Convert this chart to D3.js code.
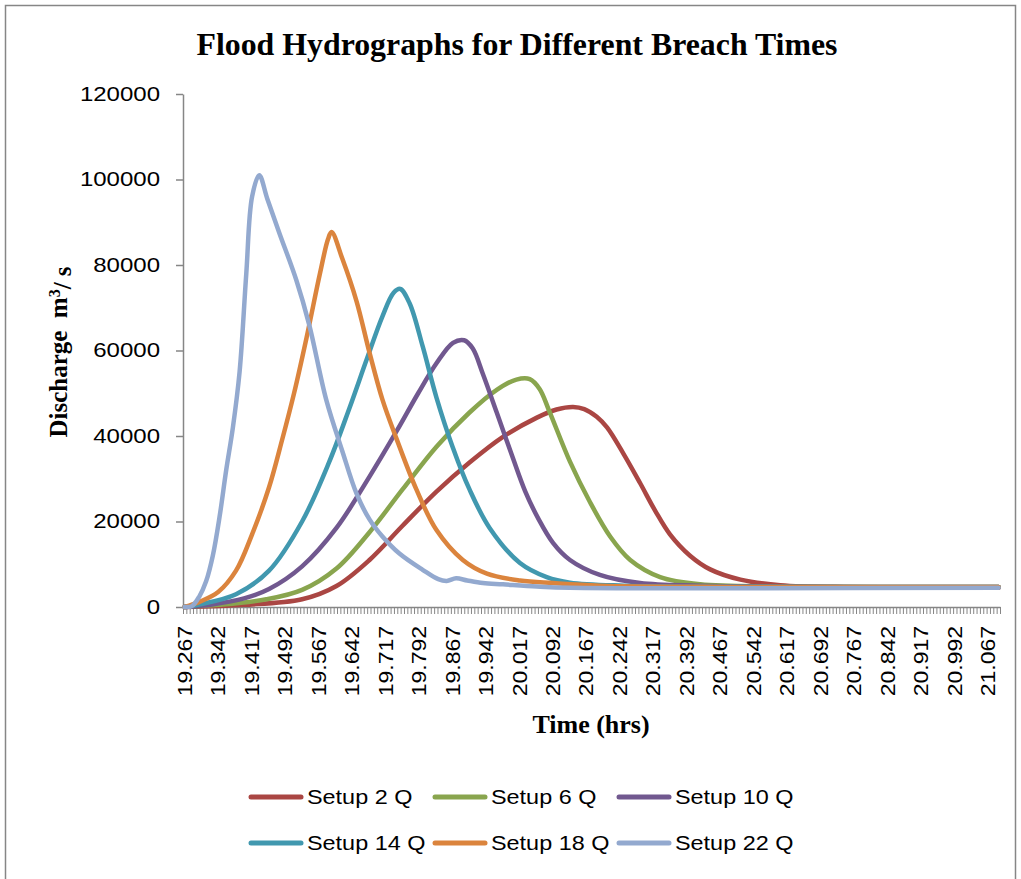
<!DOCTYPE html>
<html><head><meta charset="utf-8">
<script src="https://cdn.jsdelivr.net/npm/d3@7"></script>
<style>body{margin:0;background:#fff} svg{display:block}</style>
</head><body><svg id="c" width="1021" height="879"></svg>
<script>
// ---------- data ----------
const categoryStart = 19.267;   // hrs
const categoryStep = 0.0075;    // hrs per category
const categoryCount = 244;
const xTickLabels = ["19.267","19.342","19.417","19.492","19.567","19.642","19.717","19.792","19.867","19.942",
  "20.017","20.092","20.167","20.242","20.317","20.392","20.467","20.542","20.617","20.692",
  "20.767","20.842","20.917","20.992","21.067"];
const yTicks = [0, 20000, 40000, 60000, 80000, 100000, 120000];
const seriesNames = ["Setup 2 Q","Setup 6 Q","Setup 10 Q","Setup 14 Q","Setup 18 Q","Setup 22 Q"];
const seriesColors = ["#AA4643","#89A54E","#71588F","#4198AF","#DB843D","#93A9CF"];

// [time (hrs), discharge (m3/s)]
const setup2 = [[19.267,0],[19.400,500],[19.530,1800],[19.607,4900],[19.681,11000],[19.755,19000],[19.831,27000],
  [19.905,33800],[19.980,39800],[20.056,44300],[20.100,46200],[20.137,46800],[20.162,46300],[20.190,44500],
  [20.213,42000],[20.249,36000],[20.287,29000],[20.321,22500],[20.354,17000],[20.399,12000],[20.444,8800],
  [20.512,6400],[20.601,5100],[20.759,4600],[21.090,4500]];
const setup6 = [[19.267,0],[19.344,500],[19.450,1800],[19.530,4000],[19.607,9000],[19.681,17500],[19.755,27500],
  [19.831,37500],[19.905,45500],[19.966,50800],[20.010,53200],[20.040,53300],[20.062,51000],[20.083,46000],
  [20.130,34000],[20.175,24500],[20.220,16500],[20.265,11000],[20.332,7000],[20.422,5300],[20.600,4800],[21.090,4700]];
const setup10 = [[19.267,0],[19.328,600],[19.400,2000],[19.456,4200],[19.530,9500],[19.607,18500],[19.681,30500],
  [19.741,41000],[19.790,50000],[19.831,57000],[19.868,61800],[19.893,62400],[19.912,60500],[19.935,54500],
  [19.966,45500],[20.000,35500],[20.030,27000],[20.060,20500],[20.092,15000],[20.130,11000],[20.197,7500],
  [20.287,5600],[20.420,5000],[21.090,4700]];
const setup14 = [[19.267,0],[19.300,600],[19.382,3000],[19.456,8500],[19.530,20000],[19.591,34000],[19.636,46500],
  [19.675,58000],[19.710,68000],[19.735,73500],[19.750,74400],[19.771,71000],[19.800,61000],[19.831,49000],
  [19.867,37500],[19.905,27500],[19.950,18500],[20.018,10300],[20.078,7000],[20.130,5700],[20.250,5000],
  [20.600,4700],[21.090,4700]];
const setup18 = [[19.267,0],[19.300,1200],[19.342,3500],[19.382,8500],[19.418,17000],[19.456,28000],[19.485,39000],
  [19.512,50000],[19.540,63000],[19.570,78000],[19.588,86000],[19.596,87700],[19.620,81500],[19.652,71500],
  [19.681,59500],[19.710,48500],[19.741,39500],[19.786,27500],[19.831,18000],[19.890,11000],[19.944,7800],
  [20.018,6200],[20.092,5600],[20.197,5000],[20.500,4700],[21.090,4700]];
const setup22 = [[19.267,0],[19.283,200],[19.300,2500],[19.315,6000],[19.330,12000],[19.345,21000],[19.360,32000],
  [19.375,42000],[19.390,55000],[19.405,78000],[19.418,96000],[19.434,101000],[19.452,95500],[19.479,87500],
  [19.517,76500],[19.546,66000],[19.584,48500],[19.620,36500],[19.652,26500],[19.681,20500],[19.710,16500],
  [19.748,12500],[19.800,8700],[19.835,6500],[19.854,6100],[19.875,6700],[19.900,6200],[19.935,5600],
  [19.980,5300],[20.056,4800],[20.130,4500],[20.500,4400],[21.090,4500]];
const seriesData = [setup2, setup6, setup10, setup14, setup18, setup22];

// ---------- layout ----------
const svg = d3.select('#c');
const axisColor = '#868686';
const plot = {left: 183, right: 1000, top: 94, bottom: 607};

svg.append('rect').attr('x',5.5).attr('y',5.5).attr('width',1010).attr('height',900)
  .attr('fill','none').attr('stroke',axisColor).attr('stroke-width',1.5);

function stretch(sel, k){
  sel.each(function(){
    const L = this.getComputedTextLength();
    this.setAttribute('textLength', L*k);
    this.setAttribute('lengthAdjust','spacingAndGlyphs');
  });
}

// title
svg.append('text').attr('x',517).attr('y',55).attr('text-anchor','middle')
  .style('font-family','"Liberation Serif", "Times New Roman", serif').style('font-weight','bold')
  .style('font-size','31px').attr('textLength',641).attr('lengthAdjust','spacingAndGlyphs')
  .text('Flood Hydrographs for Different Breach Times');

// scales
const xBand = d3.scaleBand().domain(d3.range(categoryCount)).range([plot.left, plot.right]).padding(0);
const bw = xBand.bandwidth();
const xTime = d3.scaleLinear()
  .domain([categoryStart, categoryStart + (categoryCount-1)*categoryStep])
  .range([xBand(0)+bw/2, xBand(categoryCount-1)+bw/2]);
const xEdge = d3.scaleLinear().domain([0, categoryCount]).range([plot.left, plot.right]);
const y = d3.scaleLinear().domain([0,120000]).range([plot.bottom, plot.top]);

// y axis
const yAxisG = svg.append('g').attr('transform',`translate(${plot.left},0)`)
  .call(d3.axisLeft(y).tickValues(yTicks).tickSize(7).tickSizeOuter(0).tickPadding(16).tickFormat(d => String(d)));
yAxisG.selectAll('path,line').attr('stroke',axisColor).attr('stroke-width',1.5);
yAxisG.selectAll('text').style('font-family','"Liberation Sans", Arial, sans-serif').style('font-size','20px')
  .attr('fill','#000');
stretch(yAxisG.selectAll('text'), 1.2);

// x axis: category tick marks
const xTickG = svg.append('g').attr('transform',`translate(0,${plot.bottom})`)
  .call(d3.axisBottom(xEdge).tickValues(d3.range(categoryCount+1)).tickSize(7).tickSizeOuter(0).tickFormat(''));
xTickG.select('path').attr('stroke',axisColor).attr('stroke-width',1.5);
xTickG.selectAll('line').attr('stroke',axisColor).attr('stroke-width',1);

// x axis: labels every 10 categories
const labelIdx = xTickLabels.map((_, i) => i*10);
const xLabelG = svg.append('g').attr('transform',`translate(0,${plot.bottom})`)
  .call(d3.axisBottom(xBand).tickValues(labelIdx).tickSize(0).tickSizeOuter(0)
        .tickFormat((d,i) => xTickLabels[i]));
xLabelG.select('path').remove();
xLabelG.selectAll('text')
  .attr('transform','rotate(-90)').attr('text-anchor','end')
  .attr('x',-19).attr('y',0).attr('dy','0.35em')
  .style('font-family','"Liberation Sans", Arial, sans-serif').style('font-size','20px').attr('fill','#000');
stretch(xLabelG.selectAll('text'), 1.15);

// axis titles
svg.append('text').attr('x',591).attr('y',733).attr('text-anchor','middle')
  .style('font-family','"Liberation Serif", "Times New Roman", serif').style('font-weight','bold')
  .style('font-size','26px').text('Time (hrs)');
const yt = svg.append('text').attr('transform','translate(67,352) rotate(-90)').attr('text-anchor','middle')
  .style('font-family','"Liberation Serif", "Times New Roman", serif').style('font-weight','bold')
  .style('font-size','25px').attr('xml:space','preserve');
yt.append('tspan').text('Discharge  m');
yt.append('tspan').attr('dy','-0.45em').style('font-size','16px').text('3');
yt.append('tspan').attr('dy','0.45em').text('/ s');

// lines
const line = d3.line().x(d => xTime(d[0])).y(d => y(d[1])).curve(d3.curveCatmullRom.alpha(0.5));
svg.append('g').selectAll('path').data(seriesData).join('path')
  .attr('d', line).attr('fill','none')
  .attr('stroke', (d,i) => seriesColors[i]).attr('stroke-width',4.5)
  .attr('stroke-linejoin','round').attr('stroke-linecap','round');

// legend
const legX = [249, 433, 617];
const legY = [797, 843];
const leg = svg.append('g').selectAll('g').data(seriesNames).join('g')
  .attr('transform',(d,i) => `translate(${legX[i%3]},${legY[Math.floor(i/3)]})`);
leg.append('line').attr('x1',2).attr('x2',52).attr('y1',0).attr('y2',0)
  .attr('stroke',(d,i) => seriesColors[i]).attr('stroke-width',5).attr('stroke-linecap','round');
const legText = leg.append('text').attr('x',58).attr('y',7)
  .style('font-family','"Liberation Sans", Arial, sans-serif').style('font-size','20px').attr('fill','#000')
  .text(d => d);
stretch(legText, 1.17);
</script></body></html>
